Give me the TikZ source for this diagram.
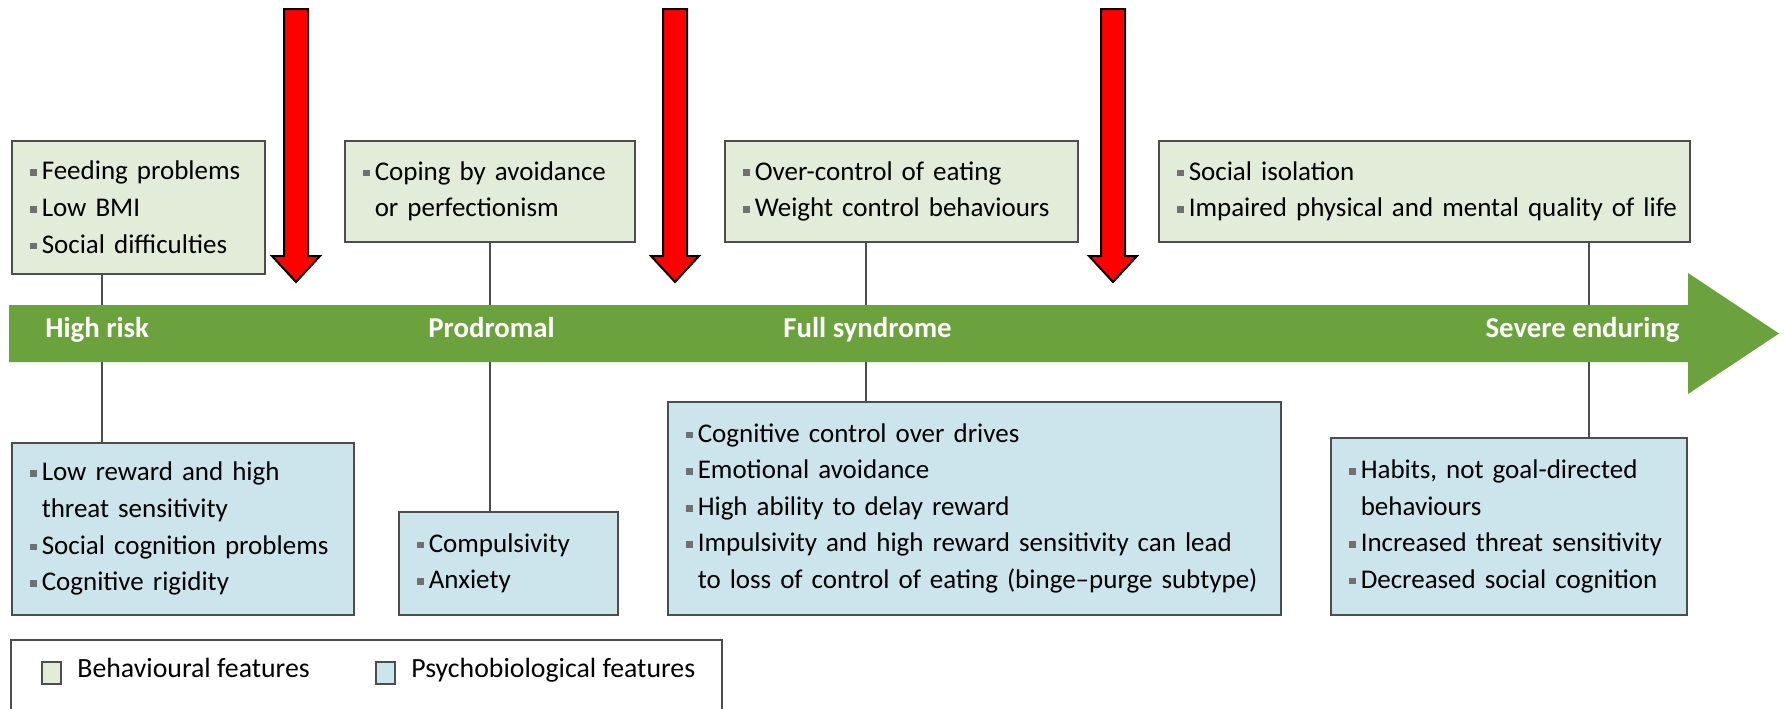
\documentclass[tikz,border=0pt]{standalone}
\usepackage{fontspec}
\setmainfont{Carlito}
\usetikzlibrary{positioning}
\definecolor{behgreen}{HTML}{E3EBD9}
\definecolor{psyblue}{HTML}{CCE4EC}
\definecolor{bargreen}{HTML}{6BA23E}
\definecolor{edgegray}{HTML}{4D4D4D}
\definecolor{bulgray}{HTML}{707070}
\newcommand{\bul}{\makebox[6pt][l]{\textcolor{bulgray}{\rule[1.9pt]{3.4pt}{3.4pt}}}}
\newcommand{\cont}{\hspace*{6pt}}
\tikzset{
    featbox/.style = {draw = edgegray, line width = 0.75pt, anchor = north west, align = left,
        inner xsep = 9pt, inner ysep = 0pt, font = \fontsize{13.5}{18.3}\selectfont},
    behbox/.style = {featbox, fill = behgreen},
    psybox/.style = {featbox, fill = psyblue},
    stage/.style = {text = white, anchor = mid west, inner sep = 0pt, font = \bfseries\fontsize{14.4}{16}\selectfont},
    stem/.style = {draw = edgegray, line width = 0.6pt},
    swatch/.style = {draw = edgegray, line width = 0.6pt},
    legtext/.style = {anchor = mid west, inner sep = 0pt, font = \fontsize{13.9}{16}\selectfont}
}
\begin{document}
\begin{tikzpicture}[x = 0.5pt, y = -0.5pt]
        \clip (0,0) rectangle (1785,708);
        \fill [white] (0,0) rectangle (1785,708);
        \node [behbox, text width = 108.5pt, minimum height = 66.5pt] (beh1) at (11,140)
            {\bul Feeding problems \\ \bul Low BMI \\ \bul Social difficulties};
        \node [behbox, text width = 127pt, minimum height = 50.5pt] (beh2) at (344,140)
            {\bul Coping by avoidance \\ \cont or perfectionism};
        \node [behbox, text width = 158.5pt, minimum height = 50.5pt] (beh3) at (724,140)
            {\bul Over-control of eating \\ \bul Weight control behaviours};
        \node [behbox, text width = 247.5pt, minimum height = 50.5pt] (beh4) at (1158,140)
            {\bul Social isolation \\ \mbox{\bul Impaired physical and mental quality of life}};
        \node [psybox, text width = 153pt, minimum height = 86pt] (psy1) at (11,442)
            {\bul Low reward and high \\ \cont threat sensitivity \\ \bul Social cognition problems \\ \bul Cognitive rigidity};
        \node [psybox, text width = 91.5pt, minimum height = 51.5pt] (psy2) at (398,511)
            {\bul Compulsivity \\ \bul Anxiety};
        \node [psybox, text width = 288.5pt, minimum height = 106.5pt] (psy3) at (667,401)
            {\bul Cognitive control over drives \\ \bul Emotional avoidance \\ \bul High ability to delay reward \\
             \bul Impulsivity and high reward sensitivity can lead \\ \cont to loss of control of eating (binge--purge subtype)};
        \node [psybox, text width = 160pt, minimum height = 88.5pt] (psy4) at (1330,437)
            {\bul Habits, not goal-directed \\ \cont behaviours \\ \bul Increased threat sensitivity \\ \bul Decreased social cognition};
        \coordinate (s1) at (102,0);
        \coordinate (s2) at (490,0);
        \coordinate (s3) at (866,0);
        \coordinate (s4) at (1589,0);
        \draw [stem] (beh1.south -| s1) -- (psy1.north -| s1);
        \draw [stem] (beh2.south -| s2) -- (psy2.north -| s2);
        \draw [stem] (beh3.south -| s3) -- (psy3.north -| s3);
        \draw [stem] (beh4.south -| s4) -- (psy4.north -| s4);
        \fill [bargreen] (9,305) -- (1688,305) -- (1688,273) -- (1779,333.5) -- (1688,394) -- (1688,362) -- (9,362) -- cycle;
        \node [stage] (highrisk) at (45,333) {High risk};
        \node [stage] (prodromal) at (428,333) {Prodromal};
        \node [stage] (fullsyn) at (783,333) {Full syndrome};
        \node [stage, anchor = mid east] (severe) at (1680,333) {Severe enduring};
        \foreach \x in {296,675,1113} {
            \draw [fill = red, line width = 1pt, line join = miter]
                (\x-12,9) -- (\x+12,9) -- (\x+12,256) -- (\x+24,256) -- (\x,282)
                -- (\x-24,256) -- (\x-12,256) -- cycle;
        }
        \draw [edgegray, line width = 0.75pt] (11,640) rectangle (722,760);
        \draw [swatch, fill = behgreen] (42,662) rectangle (61,684);
        \node [legtext] (behleg) at (77,673) {Behavioural features};
        \draw [swatch, fill = psyblue] (376,662) rectangle (395,684);
        \node [legtext] (psyleg) at (411,673) {Psychobiological features};
    \end{tikzpicture}
\end{document}
